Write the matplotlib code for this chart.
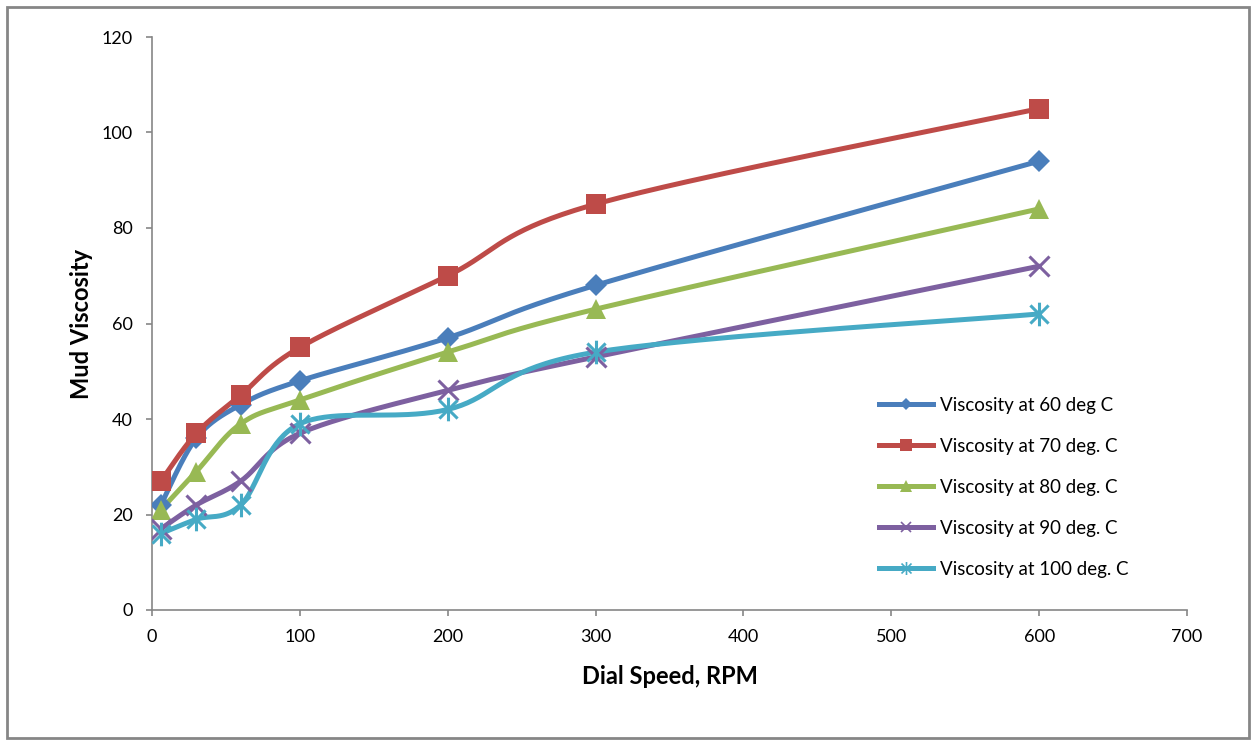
import numpy as np
import matplotlib.pyplot as plt
from matplotlib.path import Path
from matplotlib.lines import Line2D
from matplotlib.patches import Rectangle

plt.rcParams['font.family'] = ['Lato', 'DejaVu Sans']

# Dial speeds (RPM) and mud viscosity readings
rpm = [6, 30, 60, 100, 200, 300, 600]
visc_60 = [22, 36, 43, 48, 57, 68, 94]
visc_70 = [27, 37, 45, 55, 70, 85, 105]
visc_80 = [21, 29, 39, 44, 54, 63, 84]
visc_90 = [17, 22, 27, 37, 46, 53, 72]
visc_100 = [16, 19, 22, 39, 42, 54, 62]

labels = ["Viscosity at 60 deg C", "Viscosity at 70 deg. C", "Viscosity at 80 deg. C",
          "Viscosity at 90 deg. C", "Viscosity at 100 deg. C"]
colors = ["#4A7EBB", "#BE4B48", "#98B954", "#7D60A0", "#46AAC5"]

# excel style asterisk marker (x with a vertical bar)
star = Path([(-1, -1), (1, 1), (-1, 1), (1, -1), (0, -1.3), (0, 1.3)],
            [Path.MOVETO, Path.LINETO, Path.MOVETO, Path.LINETO, Path.MOVETO, Path.LINETO])
markers = [("D", 11.5), ("s", 15), ("^", 15), ("x", 14), (star, 17)]


def smooth(ax, xs, ys, n=40):
    # Excel-like smoothed line: cubic bezier, control points computed in screen space
    pts = ax.transData.transform(np.column_stack([xs, ys]))
    out = []
    for i in range(len(pts) - 1):
        p0 = pts[max(i - 1, 0)]
        p1 = pts[i]
        p2 = pts[i + 1]
        p3 = pts[min(i + 2, len(pts) - 1)]
        c1 = p1 + (p2 - p0) / 6
        c2 = p2 - (p3 - p1) / 6
        t = np.linspace(0, 1, n)[:, None]
        seg = (1 - t) ** 3 * p1 + 3 * (1 - t) ** 2 * t * c1 + 3 * (1 - t) * t ** 2 * c2 + t ** 3 * p2
        out.append(seg if i == 0 else seg[1:])
    out = np.vstack(out)
    d = ax.transData.inverted().transform(out)
    return d[:, 0], d[:, 1]


fig = plt.figure(figsize=(12.56, 7.45), dpi=100)
ax = fig.add_axes([152 / 1256, 1 - 610 / 745, (1187 - 152) / 1256, (610 - 37) / 745])
ax.set_xlim(0, 700)
ax.set_ylim(0, 120)

series = [visc_60, visc_70, visc_80, visc_90, visc_100]
handles = []
for ys, lab, col, (mk, ms) in zip(series, labels, colors, markers):
    sx, sy = smooth(ax, rpm, ys)
    ax.plot(sx, sy, color=col, lw=3.6, solid_capstyle='round', zorder=2)
    crossy = mk == "x" or mk is star
    ax.plot(rpm, ys, linestyle='none', marker=mk, markersize=ms, color=col,
            markeredgewidth=2.2 if crossy else 0, zorder=3)
    handles.append(Line2D([], [], color=col, lw=3.6, marker=mk, markersize=ms * 0.55,
                          markeredgewidth=1.2 if crossy else 0))

ax.set_xticks(range(0, 701, 100))
ax.set_yticks(range(0, 121, 20))
for s in ["top", "right"]:
    ax.spines[s].set_visible(False)
for s in ["left", "bottom"]:
    ax.spines[s].set_color("#868686")
    ax.spines[s].set_linewidth(1.2)
ax.tick_params(direction='out', length=4, width=1.2, color="#868686",
               labelsize=13, pad=10)

ax.set_xlabel("Dial Speed, RPM", fontsize=17, fontweight='bold', labelpad=14)
ax.set_ylabel("Mud Viscosity", fontsize=17, fontweight='bold', labelpad=6)

fig.legend(handles, labels, loc='upper left', bbox_to_anchor=(862 / 1256, 1 - 380 / 745),
           frameon=False, fontsize=13.5, handlelength=2.9, handletextpad=0.37,
           labelspacing=1.28)

fig.add_artist(Rectangle((7 / 1256, 7 / 745), 1242 / 1256, 731 / 745, transform=fig.transFigure,
                         fill=False, edgecolor="#868686", lw=2))

fig.savefig("out.png", dpi=100)
